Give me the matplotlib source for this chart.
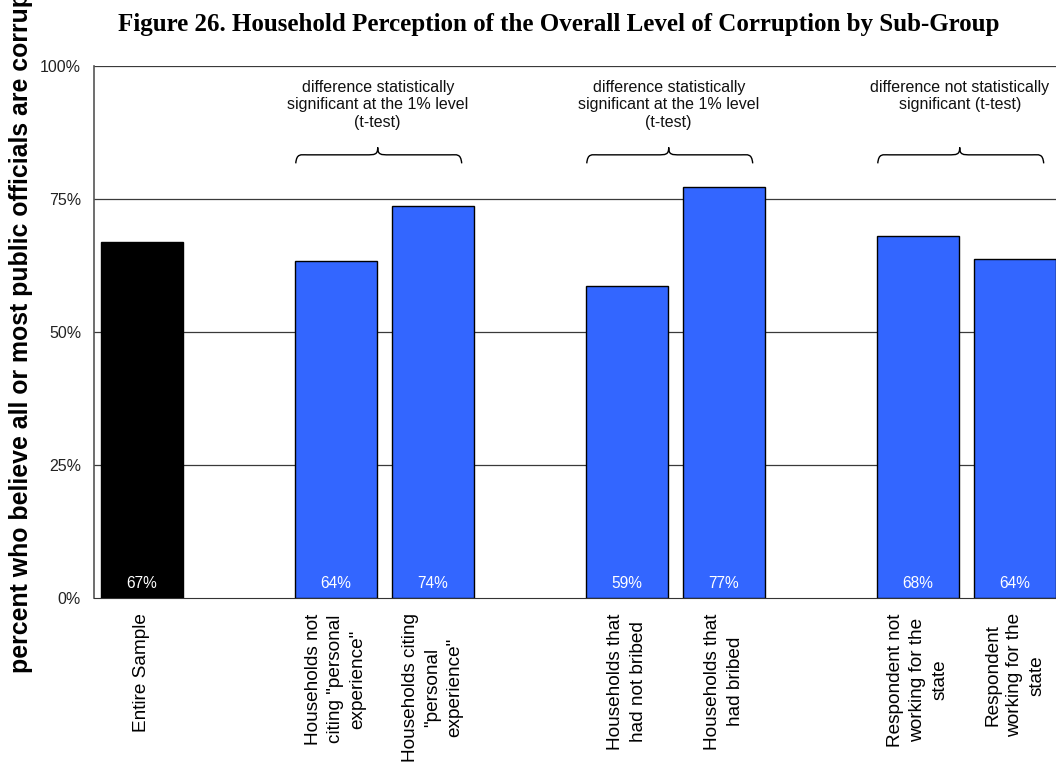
import matplotlib
matplotlib.use("Agg")
import matplotlib.pyplot as plt
from matplotlib.path import Path
from matplotlib.patches import PathPatch

categories = ["Entire Sample", "", 'Households not\nciting "personal\nexperience"',
              'Households citing\n"personal\nexperience"', "",
              "Households that\nhad not bribed", "Households that\nhad bribed", "",
              "Respondent not\nworking for the\nstate", "Respondent\nworking for the\nstate"]
values = [66.9, None, 63.4, 73.7, None, 58.7, 77.3, None, 68.0, 63.8]
value_labels = ["67%", "", "64%", "74%", "", "59%", "77%", "", "68%", "64%"]
bar_colors = ["#000000", None, "#3366FF", "#3366FF", None, "#3366FF", "#3366FF", None, "#3366FF", "#3366FF"]
pair_starts = [2, 5, 8]
annotations = ["difference statistically\nsignificant at the 1% level\n(t-test)",
               "difference statistically\nsignificant at the 1% level\n(t-test)",
               "difference not statistically\nsignificant (t-test)"]
yticks = [0, 25, 50, 75, 100]
ytick_labels = ["0%", "25%", "50%", "75%", "100%"]

sans = ["Liberation Sans", "DejaVu Sans"]
plt.rcParams["font.family"] = sans

fig = plt.figure(figsize=(10.56, 7.65), dpi=100)
ax = fig.add_axes([93.5 / 1056, 1 - 598 / 765, 970 / 1056, 532 / 765])

for i, (v, c, lab) in enumerate(zip(values, bar_colors, value_labels)):
    if v is None:
        continue
    ax.bar(i, v, width=0.845, color=c, edgecolor="black", linewidth=1.0, zorder=3)
    ax.text(i, 1.9, lab, color="white", ha="center", va="baseline", fontsize=11.2, zorder=4)

ax.set_xlim(-0.5, len(categories) - 0.5)
ax.set_ylim(0, 100)
ax.set_yticks(yticks)
ax.set_yticklabels(ytick_labels, fontsize=11.5, color="#222222")
ax.tick_params(axis="y", length=0, pad=9)
ax.set_xticks(range(len(categories)))
ax.set_xticklabels(categories, rotation=90, fontsize=13.7, ha="center", va="top",
                   multialignment="center", linespacing=1.4)
ax.tick_params(axis="x", length=0, pad=11)
for y in [25, 50, 75, 100]:
    ax.axhline(y, color="#3a3a3a", linewidth=0.9, zorder=1)
for s in ["right", "top"]:
    ax.spines[s].set_visible(False)
ax.spines["left"].set_color("#555555")
ax.spines["bottom"].set_color("#333333")
ax.spines["left"].set_linewidth(1.2)

# braces
for a, txt in zip(pair_starts, annotations):
    x0 = a - 0.415
    x1 = a + 1.296
    xm = a + 0.43
    yb, yf, yt = 81.7, 83.3, 84.7
    k = 0.12
    verts = [(x0, yb), (x0 + 0.01, yf + 0.3), (x0 + 0.05, yf), (x0 + k, yf),
             (xm - k, yf),
             (xm - 0.03, yf), (xm, yf), (xm, yt),
             (xm, yf), (xm + 0.03, yf), (xm + k, yf),
             (x1 - k, yf),
             (x1 - 0.05, yf), (x1 - 0.01, yf + 0.3), (x1, yb)]
    codes = [Path.MOVETO, Path.CURVE4, Path.CURVE4, Path.CURVE4,
             Path.LINETO,
             Path.CURVE4, Path.CURVE4, Path.CURVE4,
             Path.CURVE4, Path.CURVE4, Path.CURVE4,
             Path.LINETO,
             Path.CURVE4, Path.CURVE4, Path.CURVE4]
    ax.add_patch(PathPatch(Path(verts, codes), facecolor="none", edgecolor="black",
                           linewidth=1.0, zorder=5))
    ax.text(xm, 97.4, txt, ha="center", va="top", fontsize=11.5, linespacing=1.22,
            multialignment="center", color="#111111", zorder=5)

fig.text(559 / 1056, 1 - 25 / 765, "Figure 26. Household Perception of the Overall Level of Corruption by Sub-Group",
         ha="center", va="center", fontsize=18, fontweight="bold",
         family=["Liberation Serif", "DejaVu Serif"])
fig.text(21 / 1056, 1 - 673 / 765, "percent who believe all or most public officials are corrupt",
         rotation=90, ha="center", va="bottom", fontsize=17.9, fontweight="bold")

fig.savefig("out.png", dpi=100)
